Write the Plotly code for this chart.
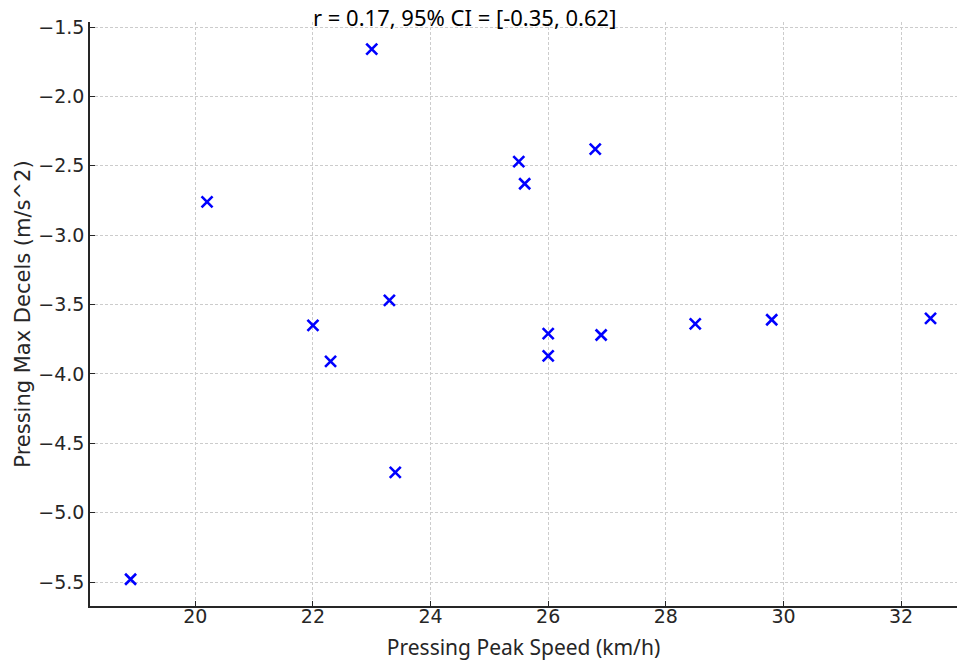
import plotly.graph_objects as go

peak_speed = [18.9, 20.2, 22.0, 22.3, 23.0, 23.3, 23.4, 25.5, 25.6, 26.0, 26.0, 26.8, 26.9, 28.5, 29.8, 32.5]
max_decels = [-5.48, -2.76, -3.65, -3.91, -1.66, -3.47, -4.71, -2.47, -2.63, -3.71, -3.87, -2.38, -3.72, -3.64, -3.61, -3.60]

x_ticks = [20, 22, 24, 26, 28, 30, 32]
y_ticks = [-1.5, -2.0, -2.5, -3.0, -3.5, -4.0, -4.5, -5.0, -5.5]
y_tick_text = ["\u22121.5", "\u22122.0", "\u22122.5", "\u22123.0", "\u22123.5", "\u22124.0", "\u22124.5", "\u22125.0", "\u22125.5"]

title_text = "r = 0.17, 95% CI = [-0.35, 0.62]"

fig = go.Figure()
fig.add_trace(go.Scatter(
    x=peak_speed, y=max_decels, mode="markers",
    marker=dict(symbol="x-thin", size=11, color="blue", line=dict(color="blue", width=2.6)),
    showlegend=False,
))

axis_common = dict(
    showgrid=True, gridcolor="#cccccc", griddash="3px,2px", gridwidth=1,
    showline=True, linecolor="#262626", linewidth=1.5,
    ticks="inside", ticklen=5, tickwidth=1.2, tickcolor="#262626",
    tickfont=dict(family="DejaVu Sans", size=19, color="#262626"),
    zeroline=False, mirror=False, automargin=False,
)

fig.update_layout(
    width=957, height=665,
    margin=dict(l=90, r=0, t=22, b=59),
    plot_bgcolor="white", paper_bgcolor="white",
    xaxis=dict(range=[18.21, 32.95], tickvals=x_ticks, ticklabelstandoff=-8,
               title=dict(text="Pressing Peak Speed (km/h)", font=dict(family="Noto Sans", size=21, color="#262626"), standoff=15),
               **axis_common),
    yaxis=dict(range=[-5.673, -1.464], tickvals=y_ticks, ticktext=y_tick_text, ticklabelstandoff=0,
               title=dict(text="Pressing Max Decels (m/s^2)", font=dict(family="DejaVu Sans", size=21, color="#262626"), standoff=2),
               **axis_common),
    annotations=[dict(
        text=title_text, xref="paper", yref="paper",
        x=(464 - 90) / 867, y=1.0, xanchor="center", yanchor="bottom",
        yshift=-12, showarrow=False,
        font=dict(family="Noto Sans", size=22, color="black"),
    )],
)

fig.write_html(
    "out.html",
    config={"displayModeBar": False},
    post_script="document.body.style.margin='0';document.body.style.overflow='hidden';",
)
